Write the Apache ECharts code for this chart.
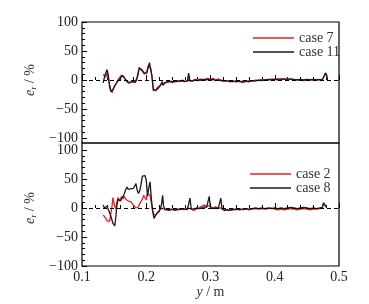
<!DOCTYPE html>
<html>
<head>
<meta charset="utf-8">
<script src="https://cdn.jsdelivr.net/npm/echarts@6/dist/echarts.min.js"></script>
<style>html,body{margin:0;padding:0;background:#fff;}#c{width:369px;height:304px;}</style>
</head>
<body>
<div id="c"></div>
<script>
// ---- data (top panel: case 7 red, case 11 black) ----
var xTop = [0.133,0.135,0.137,0.139,0.141,0.143,0.145,0.147,0.149,0.151,0.153,0.155,0.157,0.159,0.161,0.163,0.165,0.167,0.169,0.171,0.173,0.175,0.177,0.179,0.181,0.183,0.185,0.187,0.189,0.191,0.193,0.195,0.197,0.199,0.201,0.203,0.205,0.207,0.209,0.211,0.213,0.215,0.217,0.219,0.221,0.223,0.2245,0.226,0.228,0.230,0.233,0.236,0.240,0.244,0.248,0.252,0.256,0.260,0.264,0.266,0.268,0.272,0.276,0.280,0.284,0.288,0.292,0.296,0.300,0.304,0.308,0.312,0.316,0.320,0.325,0.330,0.335,0.340,0.345,0.350,0.355,0.360,0.365,0.370,0.375,0.380,0.385,0.390,0.395,0.400,0.405,0.410,0.415,0.420,0.425,0.430,0.435,0.440,0.445,0.450,0.455,0.460,0.465,0.470,0.474,0.477,0.479,0.481,0.482];
var case11 = [-5,5,12,18,8,-12,-20,-18,-15,-10,-8,-3,0,2,5,8,5,2,0,-3,-5,-4,-6,-3,-2,-4,0,10,20,22,18,15,12,10,12,22,30,18,5,-18,-20,-17,-15,-14,-12,-8,-3,-9,-6,-4,-3,-2,-4,-2,-3,-1,-2,-3,-2,12,-1,-2,0,-1,0,1,0,1,0,1,-1,0,-1,-2,-1,-3,-2,-3,-2,-4,-2,-3,-1,-2,0,-1,0,1,0,1,2,1,2,1,2,1,0,1,0,1,0,1,0,1,0,2,12,8,0];
var case7 = [10,8,5,12,10,-8,-18,-22,-14,-10,-6,-2,2,4,8,10,6,3,-2,-4,-6,-7,-3,-5,-4,-3,2,8,22,20,16,15,10,12,15,24,26,20,6,-15,-18,-19,-13,-15,-10,-10,-5,-8,-5,-3,-4,-3,-2,-4,-1,-3,0,-2,-1,3,-2,-1,1,0,2,0,2,3,1,3,0,2,0,-1,-2,-2,-3,-1,-3,-2,-3,-1,-2,0,-1,1,0,0,2,1,0,2,1,2,1,0,1,0,-1,0,1,0,1,0,1,2,12,10,1];
// ---- data (bottom panel: case 2 red, case 8 black) ----
var xBot = [0.133,0.135,0.137,0.139,0.141,0.143,0.145,0.147,0.148,0.149,0.151,0.153,0.154,0.156,0.158,0.160,0.162,0.164,0.166,0.168,0.170,0.172,0.174,0.176,0.178,0.180,0.182,0.184,0.186,0.188,0.190,0.192,0.194,0.196,0.198,0.200,0.202,0.204,0.206,0.208,0.210,0.212,0.214,0.216,0.218,0.220,0.222,0.224,0.2255,0.227,0.229,0.232,0.236,0.240,0.244,0.248,0.252,0.256,0.260,0.264,0.267,0.268,0.270,0.274,0.278,0.282,0.286,0.290,0.294,0.297,0.298,0.300,0.304,0.308,0.312,0.315,0.316,0.318,0.322,0.326,0.330,0.335,0.340,0.345,0.350,0.355,0.360,0.365,0.370,0.375,0.380,0.385,0.390,0.395,0.400,0.405,0.410,0.415,0.420,0.425,0.430,0.435,0.440,0.445,0.450,0.455,0.460,0.465,0.470,0.474,0.476,0.479,0.481];
var case8 = [5,0,-3,3,0,-8,-15,-22,-26,-28,-31,-12,2,15,18,12,10,20,25,32,36,32,30,33,31,34,38,42,30,25,30,42,55,58,56,48,20,35,45,15,-5,-18,-14,-10,-8,-6,-2,8,22,3,-2,-1,-3,-2,-4,-2,-3,-1,-2,-3,0,17,-1,-2,0,-1,0,2,1,0,20,0,-1,0,-1,0,17,-2,-4,-3,-4,-3,-2,-3,-2,-1,-2,-1,0,-1,0,-1,0,-1,0,-1,0,-1,0,1,0,-1,0,1,0,-1,0,-1,0,1,9,8,0];
var case2 = [-12,-15,-18,-22,-24,-23,-25,5,18,15,3,-2,8,18,12,15,20,16,20,15,13,12,10,11,8,5,3,0,-2,2,8,10,15,22,18,14,25,28,22,8,-5,-12,-10,-11,-8,-4,-3,0,2,0,-3,-2,-4,-3,-2,-4,-1,-3,-2,0,-2,-1,-3,-4,-2,0,3,5,3,2,4,1,0,2,0,-1,0,-3,-2,-4,-3,-2,-3,-1,-3,-2,-3,-2,-1,-2,-1,-2,-1,0,-2,-3,-2,-3,-2,-1,-2,-3,-2,-1,-2,-3,-2,-2,-1,0,8,7,1];
var xTicks = [0.1,0.2,0.3,0.4,0.5];
var yTicks = [-100,-50,0,50,100];

function pairs(xs, ys){ return xs.map(function(x,i){ return [x, ys[i]]; }); }

var RED = '#ee1c25', BLACK = '#1a1a1a', FONT = 'Liberation Serif';
function fmtY(v){ return v < 0 ? '\u2212' + Math.abs(v) : String(v); }

function yAxisCfg(gi){
  return {
    type:'value', gridIndex:gi, min:yTicks[0], max:yTicks[yTicks.length-1], interval:50,
    axisLine:{show:false}, splitLine:{show:false},
    axisTick:{show:true, inside:true, length:5, lineStyle:{color:'#000', width:1}},
    minorTick:{show:true, splitNumber:5, length:3, lineStyle:{color:'#000', width:1}},
    axisLabel:{color:'#222', fontFamily:FONT, fontSize:14, margin:4, formatter:fmtY},
    name:'{i|e}{s|r} / %', nameLocation:'middle', nameRotate:90, nameGap:44,
    nameTextStyle:{color:'#333', fontFamily:FONT, fontSize:14,
      rich:{i:{fontStyle:'italic', fontFamily:FONT, fontSize:14, color:'#333'},
            s:{fontSize:9, fontFamily:FONT, color:'#333', padding:[7,0,0,0]}}}
  };
}
function xAxisCfg(gi, labels, offset){
  return {
    type:'value', gridIndex:gi, min:xTicks[0], max:xTicks[xTicks.length-1], interval:0.1, offset:offset,
    axisLine:{show:false}, splitLine:{show:false},
    axisTick:{show:true, inside:true, length:5, lineStyle:{color:'#000', width:1}},
    minorTick:{show:true, splitNumber:5, length:3, lineStyle:{color:'#000', width:1}},
    axisLabel:{show:labels, color:'#222', fontFamily:FONT, fontSize:14, margin:4,
      formatter:function(v){ return v.toFixed(1); }},
    name: labels ? '{i|y} / m' : '', nameLocation:'middle', nameGap:19,
    nameTextStyle:{color:'#333', fontFamily:FONT, fontSize:14,
      rich:{i:{fontStyle:'italic', fontFamily:FONT, fontSize:14, color:'#333'}}}
  };
}
function zeroLine(){
  return {silent:true, symbol:['none','none'], label:{show:false}, animation:false,
    lineStyle:{color:'#000', type:[4,3], width:1}, data:[{yAxis:0}]};
}
function lineSeries(name, gi, xs, ys, color, mark){
  var s = {name:name, type:'line', xAxisIndex:gi, yAxisIndex:gi, data:pairs(xs, ys),
    symbol:'none', lineStyle:{color:color, width:1.3}, itemStyle:{color:color}, animation:false};
  if (mark) s.markLine = zeroLine();
  return s;
}
function legendCfg(names, left, top){
  return {data:names, orient:'vertical', left:left, top:top, icon:'rect', itemWidth:41, itemHeight:1.3, itemGap:0,
    padding:0, textStyle:{fontFamily:FONT, fontSize:14, color:'#333', lineHeight:12}};
}

var chart = echarts.init(document.getElementById('c'), null, {renderer:'canvas'});
chart.setOption({
  backgroundColor:'#fff',
  animation:false,
  grid:[{left:82, width:257, top:22, height:116}, {left:82, width:257, top:150, height:116}],
  xAxis:[xAxisCfg(0,false,5), xAxisCfg(1,true,0)],
  yAxis:[yAxisCfg(0), yAxisCfg(1)],
  legend:[legendCfg(['case 7','case 11'], 253, 31), legendCfg(['case 2','case 8'], 250, 167)],
  graphic:[
    {type:'rect', shape:{x:82, y:22, width:257, height:121}, style:{fill:'none', stroke:'#000', lineWidth:1.2}, silent:true, z:10},
    {type:'rect', shape:{x:82, y:143, width:257, height:123}, style:{fill:'none', stroke:'#000', lineWidth:1.2}, silent:true, z:10}
  ],
  series:[
    lineSeries('case 7', 0, xTop, case7, RED, true),
    lineSeries('case 11', 0, xTop, case11, BLACK, false),
    lineSeries('case 2', 1, xBot, case2, RED, true),
    lineSeries('case 8', 1, xBot, case8, BLACK, false)
  ]
});
</script>
</body>
</html>
